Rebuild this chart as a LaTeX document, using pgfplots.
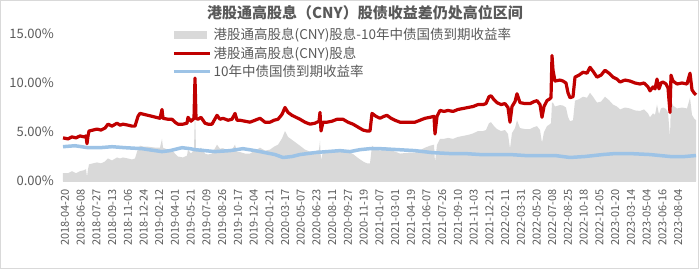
\documentclass[border=0pt]{standalone}
\usepackage{pgfplots}
\pgfplotsset{compat=1.18}
\usepackage{pgfplotstable}
\usepackage{fontspec}
\setmainfont{Noto Sans CJK SC}
\definecolor{txt}{RGB}{89,89,89}
\definecolor{redl}{RGB}{192,0,0}
\definecolor{bluel}{RGB}{157,195,230}
\definecolor{grayA}{RGB}{217,217,217}

% x = horizontal position along the date axis (tick k at 65+15.72k)
\pgfplotstableread{
x y
63 4.4
68 4.3
72 4.5
76 4.4
80 4.6
84 4.5
86 4.6
87 3.8
88 4.6
89 5.1
93 5.2
97 5.3
101 5.2
105 5.4
108 5.8
112 5.6
117 5.9
120 5.7
123 5.8
128 5.7
132 5.6
135 5.6
138 6.6
140 6.9
144 6.8
148 6.7
152 6.6
156 6.5
160 6.4
162 7.3
163 6.4
168 6.3
172 6.3
175 6.0
178 5.8
183 5.8
187 5.9
188 6.5
191 6.1
194 6.4
195 10.5
196 6.4
198 6.3
201 6.5
205 5.9
208 5.8
212 5.8
217 6.7
220 6.3
223 6.4
228 6.2
232 6.3
235 6.9
237 6.2
240 6.2
245 6.1
250 6.0
255 6.2
260 6.4
265 6.0
270 6.0
274 6.2
278 6.3
282 6.8
285 7.5
288 7.0
292 6.7
296 6.5
300 6.3
305 6.0
310 5.8
315 5.9
319 6.1
320 7.0
321 5.1
323 6.0
327 6.0
332 6.1
337 6.3
343 6.3
348 6.0
353 5.8
358 5.5
363 5.2
367 5.1
370 5.1
372 6.9
376 6.6
380 6.4
384 6.6
387 6.7
391 6.4
395 6.2
400 6.0
405 6.0
410 6.0
415 6.0
420 6.2
425 6.4
430 6.5
434 6.6
435 4.8
437 6.6
440 7.2
444 7.1
448 7.2
453 7.1
458 7.3
463 7.4
468 7.5
473 7.6
478 7.8
483 7.8
486 7.9
489 8.6
491 8.7
494 8.3
497 8.0
501 7.8
505 7.9
508 7.5
510 6.0
512 7.6
515 8.1
517 8.9
520 8.0
525 7.9
530 7.9
534 8.1
537 8.2
540 7.8
542 6.5
544 7.6
547 8.2
550 8.4
551 8.5
552 12.8
553 11.3
555 10.2
560 10.3
563 10.2
566 10.0
568 9.0
570 8.5
573 8.6
575 10.6
579 10.8
583 11.1
587 11.0
590 11.6
593 11.2
597 10.6
601 10.8
605 11.3
609 11.0
613 10.6
617 10.4
620 10.1
625 10.3
630 10.2
635 10.0
640 9.9
644 10.0
648 9.6
650 9.2
653 9.6
655 9.4
657 10.4
659 9.4
661 10.0
663 10.1
666 9.9
668 9.5
670 7.0
671 10.8
673 10.2
677 9.9
682 10.0
687 9.9
690 11.0
692 9.3
694 9.0
696 8.8
}\redtab

\pgfplotstableread{
x y
63 3.5
75 3.6
88 3.4
100 3.4
112 3.5
125 3.4
142 3.3
155 3.1
162 3.0
170 3.1
182 3.4
190 3.3
195 3.2
205 3.1
215 3.0
230 3.1
243 3.3
255 3.1
265 2.9
275 2.7
283 2.4
292 2.5
300 2.7
315 2.9
327 3.0
340 3.1
350 3.0
360 3.2
370 3.3
380 3.3
398 3.2
415 3.1
432 2.9
450 2.8
465 2.8
480 2.7
498 2.7
510 2.7
525 2.6
537 2.6
555 2.6
570 2.4
585 2.5
603 2.7
615 2.8
630 2.8
650 2.7
670 2.5
685 2.5
696 2.6
}\bluetab

\pgfplotstableread{
x y
63 0.8
68 0.8
72 1.0
76 0.8
80 1.0
84 1.1
86 1.2
87 0.4
88 1.2
89 1.7
93 1.8
97 1.9
101 1.8
105 2.0
108 2.3
112 2.1
117 2.4
120 2.3
123 2.4
128 2.3
132 2.2
135 2.3
138 3.3
140 3.6
144 3.5
148 3.5
152 3.45
156 3.4
160 3.4
162 4.3
163 3.4
168 3.2
172 3.15
175 2.8
178 2.5
183 2.4
187 2.6
188 3.2
191 2.8
194 3.2
195 7.3
196 3.2
198 3.1
201 3.4
205 2.8
208 2.7
212 2.8
217 3.7
220 3.3
223 3.35
228 3.1
232 3.2
235 3.7
237 3.0
240 2.95
245 2.8
250 2.8
255 3.1
260 3.4
265 3.1
270 3.2
274 3.5
278 3.7
282 4.35
285 5.1
288 4.5
292 4.2
296 3.9
300 3.6
305 3.2
310 3.0
315 3.0
319 3.2
320 4.1
321 2.15
323 3.0
327 3.0
332 3.05
337 3.2
343 3.2
348 3.0
353 2.75
358 2.35
363 2.0
367 1.8
370 1.8
372 3.6
376 3.3
380 3.1
384 3.3
387 3.45
391 3.15
395 3.0
400 2.8
405 2.85
410 2.9
415 2.9
420 3.15
425 3.4
430 3.6
434 3.7
435 1.9
437 3.7
440 4.3
444 4.3
448 4.4
453 4.3
458 4.5
463 4.6
468 4.7
473 4.85
478 5.1
483 5.1
486 5.2
489 5.9
491 6.0
494 5.6
497 5.3
501 5.1
505 5.2
508 4.8
510 3.3
512 4.9
515 5.4
517 6.2
520 5.4
525 5.3
530 5.3
534 5.5
537 5.6
540 5.2
542 3.9
544 5.0
547 5.6
550 5.8
551 5.9
552 8.0
553 8.0
555 7.6
560 7.75
563 7.7
566 7.5
568 6.55
570 6.1
573 6.2
575 8.2
579 8.35
583 8.6
587 8.5
590 9.0
593 8.6
597 8.0
601 8.1
605 8.6
609 8.25
613 7.8
617 7.6
620 7.3
625 7.5
630 7.4
635 7.2
640 7.15
644 7.3
648 6.9
650 6.5
653 6.9
655 6.75
657 7.8
659 6.8
661 7.4
663 7.5
666 7.35
668 7.0
670 4.5
671 8.3
673 7.7
677 7.4
682 7.5
687 7.4
690 8.5
692 6.75
694 6.4
696 6.2
}\graytab

\begin{document}
\begin{tikzpicture}
\useasboundingbox (-63pt,-88pt) rectangle (636pt,181pt);
\draw[black!15, line width=0.8pt] (-62.5pt,-87.5pt) rectangle (635.5pt,180.5pt);
\begin{axis}[
  at={(0pt,0pt)}, anchor=south west,
  scale only axis,
  width=633pt, height=156.8pt,
  xmin=63, xmax=696, ymin=0, ymax=16,
  axis lines*=left,
  axis line style={-},
  y axis line style={draw=none},
  x axis line style={draw=black!15, line width=0.8pt},
  major tick length=0pt,
  clip=false,
  ytick={0,5,10,15},
  yticklabels={0.00\%,5.00\%,10.00\%,15.00\%},
  yticklabel style={font=\fontsize{13}{14}\selectfont, text=txt, inner sep=0pt, xshift=-9pt},
  xtick={65,80.72,96.44,112.16,127.88,143.6,159.32,175.04,190.76,206.48,222.2,237.92,253.64,269.36,285.08,300.8,316.52,332.24,347.96,363.68,379.4,395.12,410.84,426.56,442.28,458,473.72,489.44,505.16,520.88,536.6,552.32,568.04,583.76,599.48,615.2,630.92,646.64,662.36,678.08},
  xticklabels={2018-04-20,2018-06-08,2018-07-27,2018-09-13,2018-11-06,2018-12-24,2019-02-12,2019-04-01,2019-05-21,2019-07-09,2019-08-26,2019-10-17,2019-12-04,2020-01-21,2020-03-17,2020-05-07,2020-06-23,2020-08-11,2020-09-27,2020-11-19,2021-01-07,2021-03-01,2021-04-19,2021-06-07,2021-07-26,2021-09-10,2021-11-03,2021-12-21,2022-02-11,2022-03-31,2022-05-20,2022-07-08,2022-08-25,2022-10-18,2022-12-05,2023-01-20,2023-03-14,2023-05-04,2023-06-16,2023-08-04},
  xticklabel style={font=\fontsize{11}{12}\selectfont, text=txt, rotate=90, anchor=east, inner sep=0pt, xshift=-8pt},
  legend style={at={(109pt,155pt)}, anchor=north west, draw=none, fill=none,
    font=\fontsize{13.5}{14}\selectfont, text=txt, row sep=1.5pt, inner sep=0pt,
    legend cell align=left},
]
\addplot[fill=grayA, draw=none, area legend,
  legend image code/.code={\fill[grayA] (0pt,-4pt) rectangle (33pt,4pt);}]
  table[x=x,y=y]{\graytab} \closedcycle;
\addlegendentry{港股通高股息(CNY)股息-10年中债国债到期收益率}
\addplot[redl, line width=3.2pt, line join=round,
  legend image code/.code={\draw[redl, line width=3pt] (0pt,0pt) -- (36pt,0pt);}]
  table[x=x,y=y]{\redtab};
\addlegendentry{港股通高股息(CNY)股息}
\addplot[bluel, line width=3.5pt, line join=round,
  legend image code/.code={\draw[bluel, line width=3.5pt] (0pt,0pt) -- (36pt,0pt);}]
  table[x=x,y=y]{\bluetab};
\addlegendentry{10年中债国债到期收益率}
\end{axis}
\node[font=\fontsize{15}{16}\selectfont\bfseries, text=txt, inner sep=0pt, anchor=center] at (302pt,168pt) {港股通高股息（CNY）股债收益差仍处高位区间};
\end{tikzpicture}
\end{document}
